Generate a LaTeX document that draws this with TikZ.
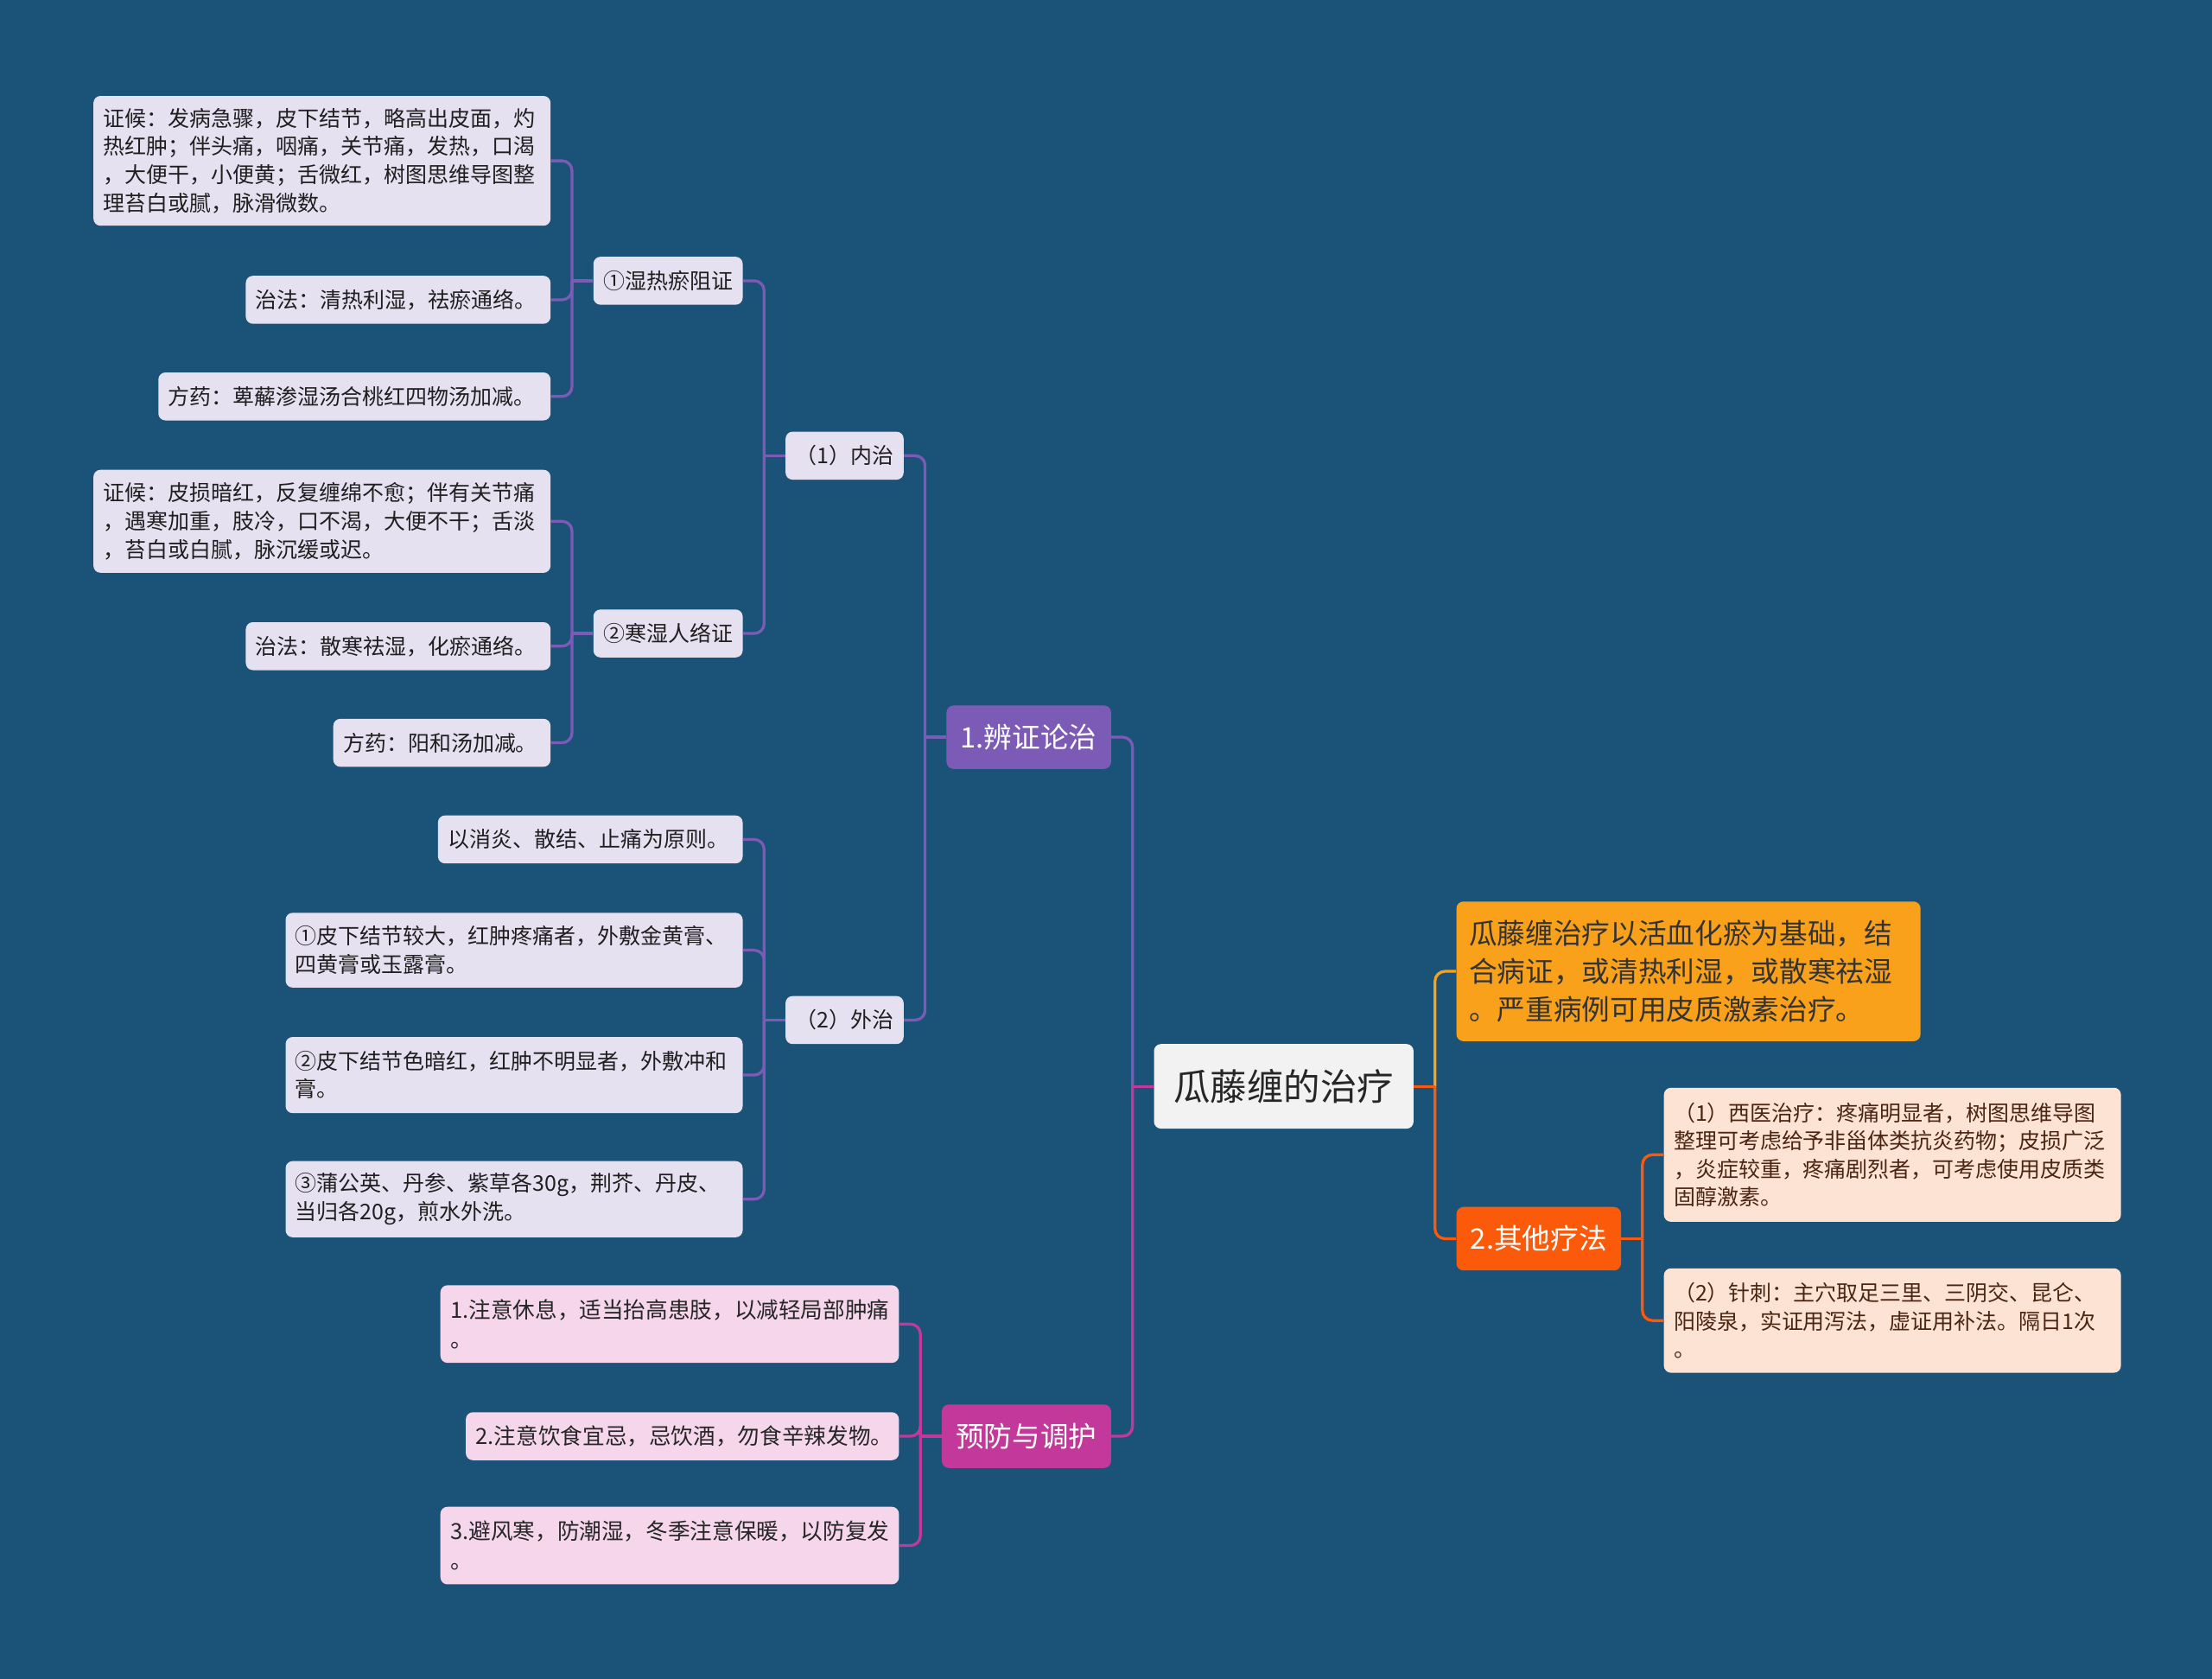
\documentclass[tikz,border=0pt]{standalone}
\usepackage{fontspec}
\setmainfont{Noto Sans CJK SC}
\usepackage{tikz}
\usetikzlibrary{positioning}
\definecolor{bgblue}{HTML}{1B5378}
\definecolor{accentp}{HTML}{7C5BB6}
\definecolor{accentm}{HTML}{C2399B}
\definecolor{accento}{HTML}{F9A11B}
\definecolor{accentr}{HTML}{FB5A0B}
\definecolor{softp}{HTML}{E6E1F1}
\definecolor{softm}{HTML}{F5D6EB}
\definecolor{softr}{HTML}{FDE3D4}
\definecolor{softg}{HTML}{F2F2F2}
\definecolor{inkbrown}{HTML}{4A2612}
\tikzset{
  rootbox/.style={fill=softg,rounded corners=5pt,minimum width=184pt,minimum height=60pt,font=\fontsize{26pt}{30pt}\selectfont,text=black!85},
  mainbox/.style={rounded corners=5pt,minimum height=45pt,inner xsep=10pt,font=\fontsize{20pt}{27pt}\selectfont,text=white},
  subbox/.style={fill=softp,rounded corners=5pt,minimum height=34pt,inner xsep=7pt,font=\fontsize{15.3pt}{20pt}\selectfont,text=black!88},
  leafp/.style={subbox,align=left},
  leafm/.style={fill=softm,rounded corners=5pt,minimum height=34pt,inner xsep=7pt,align=left,font=\fontsize{15.7pt}{21pt}\selectfont,text=black!85},
  leafr/.style={fill=softr,rounded corners=5pt,inner xsep=7pt,align=left,font=\fontsize{15.3pt}{20pt}\selectfont,text=inkbrown},
  link/.style={line width=2pt,rounded corners=7pt}
}

\begin{document}
\begin{tikzpicture}[x=1pt,y=1pt]
  \fill[bgblue] (0,0) rectangle (1568,-1190);
  \useasboundingbox (0,0) rectangle (1568,-1190);

  \node[rootbox] (root) at (910,-770) {瓜藤缠的治疗};
  \node[mainbox,fill=accentp,left=30pt of root,yshift=247.5pt] (bz) {1.辨证论治};
  \node[mainbox,fill=accentm,left=30pt of root,yshift=-248pt] (yf) {预防与调护};
  \node[mainbox,fill=accento,text=black!80,inner xsep=9pt,text width=311pt,align=left,minimum height=99pt,right=30pt of root,yshift=81.5pt] (jc) {瓜藤缠治疗以活血化瘀为基础，结\\合病证，或清热利湿，或散寒祛湿\\。严重病例可用皮质激素治疗。};
  \node[mainbox,fill=accentr,right=30pt of root,yshift=-108pt] (qt) {2.其他疗法};

  \node[subbox,left=30pt of bz,yshift=199.5pt] (nz) {（1）内治};
  \node[subbox,left=30pt of bz,yshift=-200.5pt] (wz) {（2）外治};
  \node[subbox,left=30pt of nz,yshift=124pt] (sr) {①湿热瘀阻证};
  \node[subbox,left=30pt of nz,yshift=-126pt] (hs) {②寒湿人络证};

  \node[leafp,text width=310pt,minimum height=92pt,left=30pt of sr,yshift=85pt] (sr1) {证候：发病急骤，皮下结节，略高出皮面，灼\\热红肿；伴头痛，咽痛，关节痛，发热，口渴\\，大便干，小便黄；舌微红，树图思维导图整\\理苔白或腻，脉滑微数。};
  \node[leafp,text width=202pt,left=30pt of sr,yshift=-13.5pt] (sr2) {治法：清热利湿，祛瘀通络。};
  \node[leafp,text width=264pt,left=30pt of sr,yshift=-82pt] (sr3) {方药：萆薢渗湿汤合桃红四物汤加减。};

  \node[leafp,text width=310pt,minimum height=73pt,left=30pt of hs,yshift=79.5pt] (hs1) {证候：皮损暗红，反复缠绵不愈；伴有关节痛\\，遇寒加重，肢冷，口不渴，大便不干；舌淡\\，苔白或白腻，脉沉缓或迟。};
  \node[leafp,text width=202pt,left=30pt of hs,yshift=-9pt] (hs2) {治法：散寒祛湿，化瘀通络。};
  \node[leafp,text width=140pt,left=30pt of hs,yshift=-77.5pt] (hs3) {方药：阳和汤加减。};

  \node[leafp,text width=202pt,left=30pt of wz,yshift=128pt] (wz1) {以消炎、散结、止痛为原则。};
  \node[leafp,text width=310pt,minimum height=53pt,left=30pt of wz,yshift=49.5pt] (wz2) {①皮下结节较大，红肿疼痛者，外敷金黄膏、\\四黄膏或玉露膏。};
  \node[leafp,text width=310pt,minimum height=54pt,left=30pt of wz,yshift=-39pt] (wz3) {②皮下结节色暗红，红肿不明显者，外敷冲和\\膏。};
  \node[leafp,text width=310pt,minimum height=54pt,left=30pt of wz,yshift=-127pt] (wz4) {③蒲公英、丹参、紫草各30g，荆芥、丹皮、\\当归各20g，煎水外洗。};

  \node[leafm,text width=311pt,minimum height=55pt,left=30pt of yf,yshift=79.5pt] (yf1) {1.注意休息，适当抬高患肢，以减轻局部肿痛\\。};
  \node[leafm,text width=293pt,left=30pt of yf] (yf2) {2.注意饮食宜忌，忌饮酒，勿食辛辣发物。};
  \node[leafm,text width=311pt,minimum height=55pt,left=30pt of yf,yshift=-77.5pt] (yf3) {3.避风寒，防潮湿，冬季注意保暖，以防复发\\。};

  \node[leafr,text width=310pt,minimum height=95pt,right=30pt of qt,yshift=59.5pt] (qt1) {（1）西医治疗：疼痛明显者，树图思维导图\\整理可考虑给予非甾体类抗炎药物；皮损广泛\\，炎症较重，疼痛剧烈者，可考虑使用皮质类\\固醇激素。};
  \node[leafr,text width=310pt,minimum height=74pt,right=30pt of qt,yshift=-58pt] (qt2) {（2）针刺：主穴取足三里、三阴交、昆仑、\\阳陵泉，实证用泻法，虚证用补法。隔日1次\\。};

  % left side
  \draw[link,accentp] (bz.east) -| ([xshift=-15pt]root.west);
  \draw[link,accentm] (yf.east) -| ([xshift=-15pt]root.west);
  \draw[link,accentm] (root.west) -- ++(-15pt,0);
  \draw[link,accentp] (bz.west) -- ++(-15pt,0);
  \draw[link,accentp] (nz.east) -| ([xshift=-15pt]bz.west);
  \draw[link,accentp] (wz.east) -| ([xshift=-15pt]bz.west);
  \draw[link,accentp] (nz.west) -- ++(-15pt,0);
  \draw[link,accentp] (sr.east) -| ([xshift=-15pt]nz.west);
  \draw[link,accentp] (hs.east) -| ([xshift=-15pt]nz.west);
  \draw[link,accentp] (sr.west) -- ++(-15pt,0);
  \draw[link,accentp] (sr1.east) -| ([xshift=-15pt]sr.west);
  \draw[link,accentp] (sr2.east) -| ([xshift=-15pt]sr.west);
  \draw[link,accentp] (sr3.east) -| ([xshift=-15pt]sr.west);
  \draw[link,accentp] (hs.west) -- ++(-15pt,0);
  \draw[link,accentp] (hs1.east) -| ([xshift=-15pt]hs.west);
  \draw[link,accentp] (hs2.east) -| ([xshift=-15pt]hs.west);
  \draw[link,accentp] (hs3.east) -| ([xshift=-15pt]hs.west);
  \draw[link,accentp] (wz.west) -- ++(-15pt,0);
  \draw[link,accentp] (wz1.east) -| ([xshift=-15pt]wz.west);
  \draw[link,accentp] (wz2.east) -| ([xshift=-15pt]wz.west);
  \draw[link,accentp] (wz3.east) -| ([xshift=-15pt]wz.west);
  \draw[link,accentp] (wz4.east) -| ([xshift=-15pt]wz.west);
  \draw[link,accentm] (yf.west) -- ++(-15pt,0);
  \draw[link,accentm] (yf1.east) -| ([xshift=-15pt]yf.west);
  \draw[link,accentm] (yf2.east) -| ([xshift=-15pt]yf.west);
  \draw[link,accentm] (yf3.east) -| ([xshift=-15pt]yf.west);

  % right side
  \draw[link,accento] (jc.west) -| ([xshift=15pt]root.east);
  \draw[link,accentr] (qt.west) -| ([xshift=15pt]root.east);
  \draw[link,accentr] (root.east) -- ++(15pt,0);
  \draw[link,accentr] (qt.east) -- ++(15pt,0);
  \draw[link,accentr] (qt1.west) -| ([xshift=15pt]qt.east);
  \draw[link,accentr] (qt2.west) -| ([xshift=15pt]qt.east);
\end{tikzpicture}
\end{document}
